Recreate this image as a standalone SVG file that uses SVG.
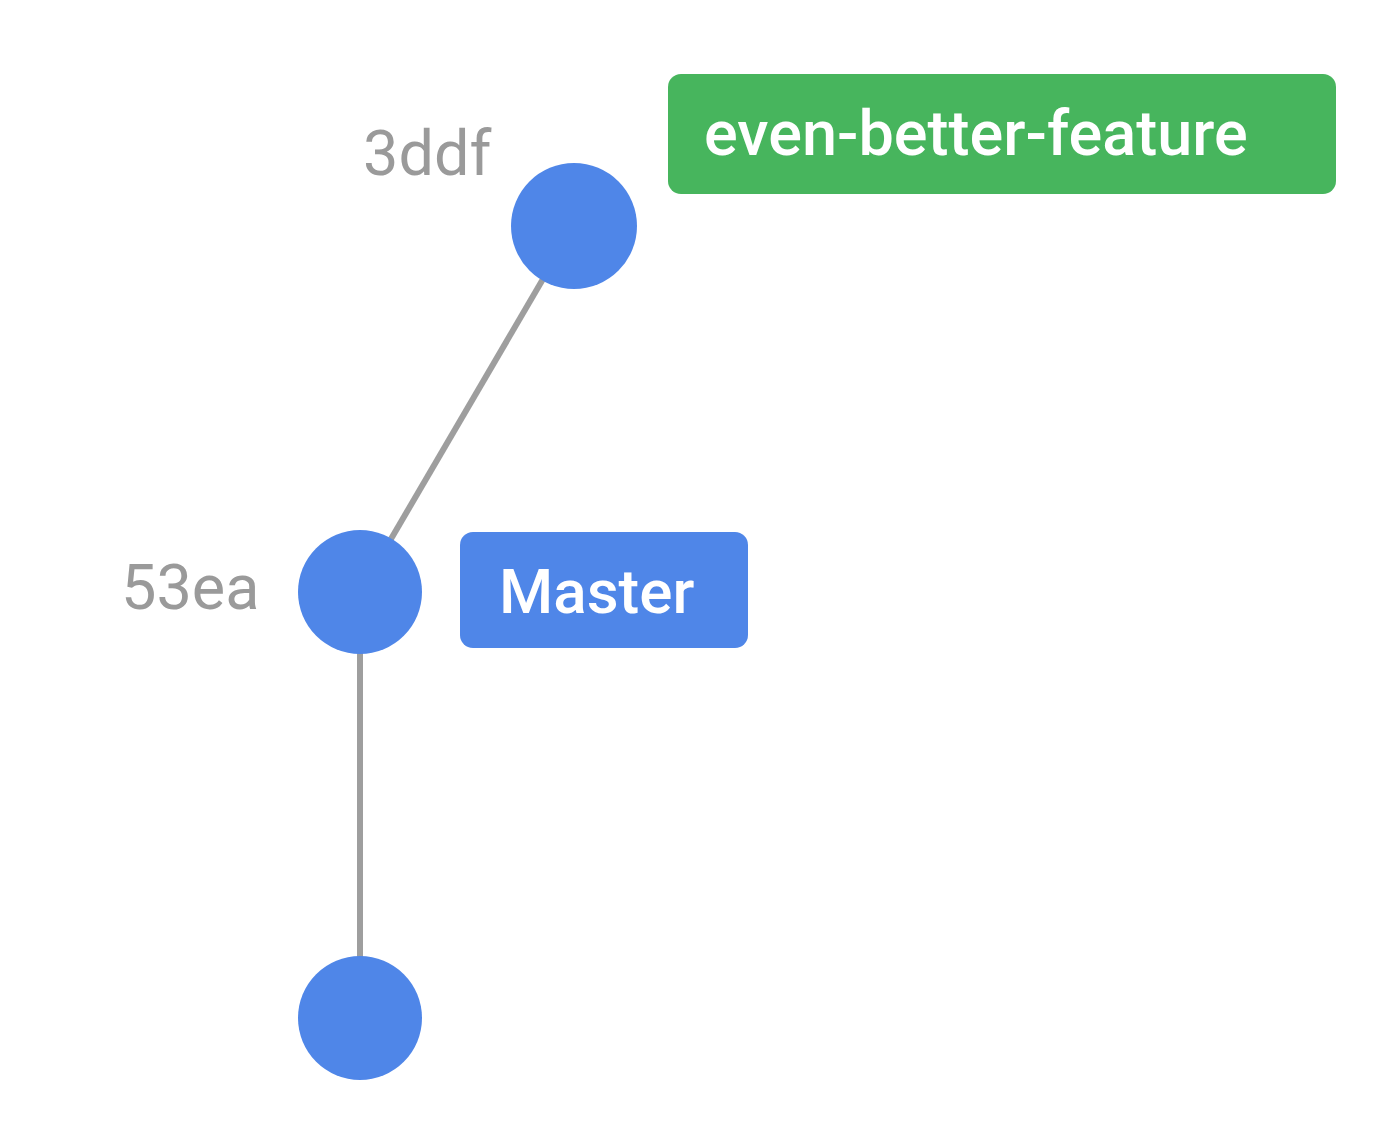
<svg xmlns="http://www.w3.org/2000/svg" width="1388" height="1148" viewBox="0 0 1388 1148">
  <style>
    .edge { stroke: #9e9e9e; stroke-width: 6; fill: none; }
    .commit { fill: #4f86e8; }
    .hash { font-family: Roboto, "Liberation Sans", sans-serif; font-size: 63px; fill: #9a9a9a; }
    .tag { font-family: Roboto, "Liberation Sans", sans-serif; font-weight: 500; fill: #ffffff; }
  </style>
  <rect width="1388" height="1148" fill="#ffffff"/>
  <g id="connectors">
    <line class="edge" x1="574" y1="226" x2="360" y2="592"/>
    <line class="edge" x1="360" y1="592" x2="360" y2="1018"/>
  </g>
  <g id="commit-3ddf">
    <circle class="commit" cx="574" cy="226" r="63"/>
    <text class="hash" x="363" y="175">3ddf</text>
  </g>
  <g id="commit-53ea">
    <circle class="commit" cx="360" cy="592" r="62"/>
    <text class="hash" x="121" y="609">53ea</text>
  </g>
  <g id="commit-root">
    <circle class="commit" cx="360" cy="1018" r="62"/>
  </g>
  <g id="branch-even-better-feature">
    <rect x="668" y="74" width="668" height="120" rx="13" fill="#47b55d"/>
    <text class="tag" x="704" y="155" font-size="63">even-better-feature</text>
  </g>
  <g id="branch-master">
    <rect x="460" y="532" width="288" height="116" rx="13" fill="#4f86e8"/>
    <text class="tag" x="499" y="613" font-size="62">Master</text>
  </g>
</svg>
